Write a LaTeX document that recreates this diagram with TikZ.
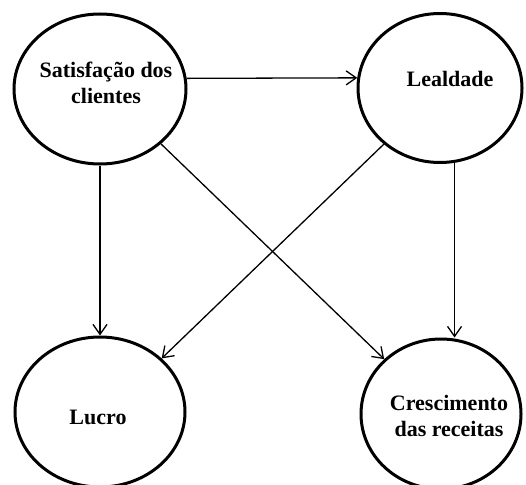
\documentclass[tikz,border=0pt]{standalone}
\usepackage{fontspec}
\setmainfont{Liberation Serif}
\usetikzlibrary{shapes.geometric,arrows.meta}
\begin{document}
\begin{tikzpicture}[x=1pt,y=-1pt,
  bubble/.style={ellipse, draw, line width=3pt, inner sep=0pt},
  lbl/.style={font=\fontsize{22}{26}\selectfont\bfseries, align=center, inner sep=0pt},
  link/.style={line width=1.3pt, -{Straight Barb[length=10pt,width=14pt]}}]
\useasboundingbox (0,0) rectangle (526,484);

% the four concepts
\node[bubble, minimum width=172pt, minimum height=150pt] (sat)   at (100,89)  {};
\node[bubble, minimum width=164pt, minimum height=149pt] (leal)  at (440,88)  {};
\node[bubble, minimum width=170pt, minimum height=150pt] (lucro) at (100,412) {};
\node[bubble, minimum width=160pt, minimum height=150pt] (cresc) at (441,414) {};

% their captions
\node[lbl] (sat-t) at (106,82.5) {Satisfação dos\\clientes};
\node[lbl, anchor=base] (leal-t) at (450,87) {Lealdade};
\node[lbl, anchor=base] (lucro-t) at (98,424) {Lucro};
\node[lbl] (cresc-t) at (449,415.5) {Crescimento\\das receitas};

% relations
\draw[link] (sat.7) -- (leal.173);
\draw[link] (sat.south) -- (lucro.north);
\draw[link] (leal.281) -- (leal.281 |- cresc.north);
\draw[link] (sat.318) -- (cresc.136.5);
\draw[link] (leal.225.5) -- (lucro.41);
\end{tikzpicture}
\end{document}
